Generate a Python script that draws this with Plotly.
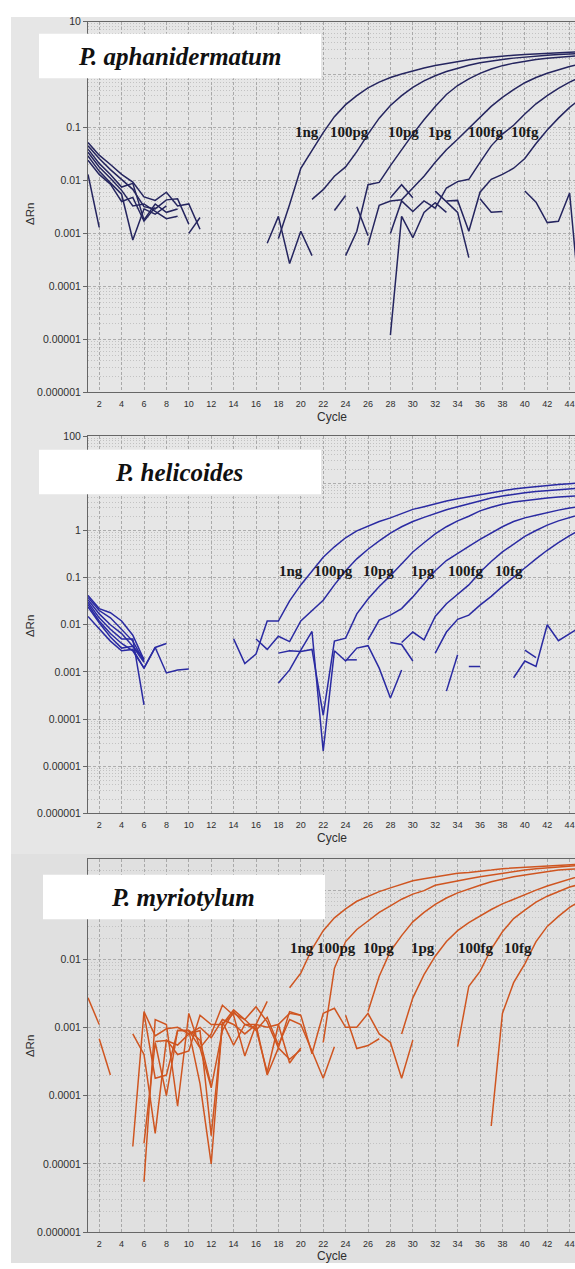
import math
import numpy as np
import plotly.graph_objects as go

N = None
cycles = list(range(1, 46))
dilutions = ["1ng", "100pg", "10pg", "1pg", "100fg", "10fg", "NTC", "NTC 2"]

# ---- P. aphanidermatum : delta Rn per cycle (None = not plotted on log scale)
aph_1ng = [0.052, 0.03, 0.02, 0.013, 0.0093, 0.0049, 0.0042, 0.006, 0.0033, 0.0036, 0.0012, *[N] * 6,
           0.0008, 0.0035, 0.017, 0.037, 0.08, 0.16, 0.27, 0.4, 0.56, 0.72, 0.88, 1.02, 1.18, 1.33,
           1.48, 1.62, 1.76, 1.9, 2.02, 2.13, 2.23, 2.32, 2.4, 2.47, 2.53, 2.58, 2.63, 2.67]
aph_100pg = [0.045, 0.026, 0.016, 0.0105, 0.0068, 0.0032, 0.0029, 0.0043, 0.0045, 0.0015, *[N] * 10,
             0.0044, 0.0067, 0.012, 0.018, 0.035, 0.075, 0.15, 0.26, 0.4, 0.57, 0.76, 0.95, 1.14, 1.32,
             1.5, 1.66, 1.8, 1.93, 2.04, 2.14, 2.23, 2.31, 2.38, 2.44, 2.49]
aph_10pg = [0.039, 0.021, 0.013, 0.0075, 0.0088, 0.0018, 0.0036, 0.0025, 0.0029, *[N] * 14,
            0.00038, 0.0011, 0.0083, 0.0092, 0.019, 0.038, 0.075, 0.14, 0.25, 0.42, 0.62, 0.83, 1.05,
            1.27, 1.47, 1.64, 1.79, 1.92, 2.03, 2.12, 2.2, 2.27]
aph_1pg = [0.034, 0.018, 0.011, 0.0065, 0.0033, 0.0036, 0.0026, 0.0019, 0.0021, *[N] * 13,
           0.0027, 0.0052, N, 0.0006, 0.0034, 0.0041, 0.0043, 0.0072, 0.012, 0.022, 0.038, 0.06,
           0.098, 0.16, 0.25, 0.37, 0.52, 0.7, 0.88, 1.06, 1.24, 1.42, 1.58]
aph_100fg = [0.029, 0.015, 0.009, 0.0055, 0.00075, 0.0029, 0.0023, 0.0033, *[N] * 16,
             0.0032, 0.0009, N, 0.001, 0.0041, 0.0026, 0.0041, 0.003, 0.0072, 0.0095, 0.0105, 0.022,
             0.045, 0.075, 0.11, 0.18, 0.28, 0.4, 0.55, 0.72, 0.9]
aph_10fg = [0.024, 0.013, 0.0085, 0.004, 0.0048, 0.0017, 0.0031, *[N] * 9,
            0.00065, 0.0021, 0.00027, 0.0011, 0.00038, *[N] * 6, 0.0047, 0.0083, 0.0047, N, N,
            0.0041, 0.0042, 0.0011, 0.006, 0.0105, 0.013, 0.017, 0.026, 0.05, 0.09, 0.15, 0.24, 0.35]
aph_ntc = [0.013, 0.0013, *[N] * 7, 0.001, 0.002, *[N] * 16,
           0.000012, 0.0021, 0.00083, 0.0025, 0.0038, 0.0025, N, N, 0.0045, 0.0025, 0.0026, N,
           0.0063, 0.0039, 0.0016, 0.0017, 0.0058, 0.00003]
aph_ntc2 = [*[N] * 31, 0.0063, 0.004, 0.0025, 0.00035, *[N] * 10]

# ---- P. helicoides
hel_1ng = [0.042, 0.022, 0.018, 0.012, 0.006, 0.0018, *[N] * 7,
           0.005, 0.0015, 0.0024, 0.012, 0.012, 0.032, 0.07, 0.14, 0.27, 0.45, 0.7, 0.98, 1.25, 1.55,
           1.85, 2.3, 2.8, 3.2, 3.7, 4.2, 4.7, 5.2, 5.7, 6.4, 7.0, 7.6, 8.1, 8.6, 9.0, 9.4, 9.8, 10.2]
hel_100pg = [0.038, 0.02, 0.014, 0.008, 0.0045, 0.0017, *[N] * 9,
             0.005, 0.003, 0.0057, 0.0044, 0.012, 0.02, 0.033, 0.07, 0.14, 0.25, 0.4, 0.6, 0.88, 1.2,
             1.55, 1.9, 2.3, 2.75, 3.2, 3.7, 4.3, 4.9, 5.4, 5.9, 6.3, 6.7, 7.0, 7.3, 7.6, 7.9]
hel_10pg = [0.034, 0.017, 0.01, 0.0065, 0.0035, 0.0019, *[N] * 11,
            0.0025, 0.0028, 0.0027, 0.003, 0.00012, 0.0045, 0.0052, 0.017, 0.035, 0.065, 0.11, 0.2,
            0.35, 0.55, 0.85, 1.2, 1.6, 2.0, 2.6, 3.1, 3.6, 4.0, 4.3, 4.6, 4.9, 5.1, 5.3, 5.5]
hel_1pg = [0.03, 0.014, 0.008, 0.005, 0.005, 0.0002, *[N] * 19,
           0.0048, 0.0125, 0.016, 0.022, 0.039, 0.074, 0.14, 0.23, 0.33, 0.46, 0.65, 0.9, 1.2, 1.55,
           1.85, 2.1, 2.4, 2.7, 3.0, 3.25]
hel_100fg = [0.027, 0.012, 0.0065, 0.004, 0.0028, 0.0012, 0.0033, 0.00095, 0.0011, 0.00115, *[N] * 18,
             0.0042, 0.007, 0.0048, 0.015, 0.028, 0.045, 0.07, 0.13, 0.22, 0.35, 0.52, 0.75, 1.0, 1.3,
             1.6, 1.9, 2.2]
hel_10fg = [0.024, 0.011, 0.0055, 0.0032, 0.0035, 0.0016, *[N] * 11,
            0.00058, 0.0011, 0.0029, 0.0072, 0.000021, 0.0028, 0.0017, 0.0032, 0.0036, 0.0012, 0.00028,
            0.0011, N, N, 0.0025, 0.007, 0.013, 0.016, 0.026, 0.04, 0.065, 0.1, 0.16, 0.25, 0.38, 0.55,
            0.78, 1.05]
hel_ntc = [0.015, 0.008, 0.0045, 0.0028, 0.003, 0.0012, 0.0033, 0.004, *[N] * 15,
           0.0018, 0.0018, N, N, 0.0042, 0.0038, 0.0017, N, N, 0.00039, 0.0023, *[N] * 4,
           0.00075, 0.0017, 0.0013, 0.01, 0.0046, 0.0065, 0.009]
hel_ntc2 = [*[N] * 34, 0.0013, 0.0013, N, N, N, 0.0029, 0.002, N, N, N, N]

# ---- P. myriotylum
myr_1ng = [0.0027, 0.0011, N, N, 0.000018, 0.0017, 0.00075, 0.00095, 0.001, 0.0008, 0.001, 0.0007,
           0.0013, 0.0011, 0.0008, 0.0011, 0.0024, N, 0.0038, 0.0062, 0.014, 0.026, 0.04, 0.054, 0.07,
           0.083, 0.097, 0.11, 0.125, 0.14, 0.15, 0.16, 0.17, 0.18, 0.185, 0.19, 0.2, 0.21, 0.215,
           0.22, 0.225, 0.23, 0.235, 0.24, 0.245]
myr_100pg = [N, 0.00068, 0.0002, N, 0.0008, 0.0004, 0.000028, 0.00066, 0.0004, 0.00045, 0.0015, 0.0011,
             0.0011, 0.0018, 0.0013, 0.002, 0.0012, 0.0005, 0.0017, 0.0015, N, 0.0006, 0.0073, 0.018,
             0.027, 0.036, 0.048, 0.06, 0.075, 0.089, 0.1, 0.12, 0.13, 0.14, 0.15, 0.16, 0.17, 0.18,
             0.19, 0.2, 0.21, 0.215, 0.22, 0.23, 0.235]
myr_10pg = [*[N] * 5, 0.0000055, 0.0013, 0.0011, 0.00007, 0.0016, 0.0005, 0.0008, 0.0021, 0.0015,
            0.00038, 0.0011, 0.0002, 0.0005, 0.00034, 0.00047, *[N] * 5,
            0.0017, 0.0056, 0.013, 0.022, 0.035, 0.048, 0.063, 0.078, 0.093, 0.107, 0.12, 0.135, 0.148,
            0.16, 0.17, 0.18, 0.19, 0.2, 0.205, 0.21]
myr_1pg = [*[N] * 5, 0.00002, 0.0006, 0.0001, 0.0009, 0.0009, 0.00015, 0.00001, 0.0012, 0.00055,
           0.0011, 0.0011, 0.001, 0.0011, 0.0003, 0.0005, N, N, N, 0.0015, 0.00049, 0.00054, 0.00068, N,
           0.0008, 0.0027, 0.0059, 0.011, 0.018, 0.026, 0.034, 0.043, 0.053, 0.064, 0.075, 0.088,
           0.102, 0.117, 0.132, 0.15, 0.165]
myr_100fg = [*[N] * 5, 0.0016, 0.00018, 0.0002, 0.0009, 0.0009, 0.0005, 0.00013, 0.0009, 0.0017, 0.0011,
             0.00095, 0.00022, 0.0011, 0.0016, 0.0015, 0.00041, 0.0016, 0.0019, 0.001, 0.001, 0.0016,
             0.0008, 0.0006, 0.00018, 0.00065, N, N, N, 0.00052, 0.004, 0.0066, 0.014, 0.025, 0.039,
             0.052, 0.068, 0.083, 0.098, 0.113, 0.125]
myr_10fg = [*[N] * 6, 0.00062, 0.00064, 0.00055, 0.0008, 0.0009, 0.000026, 0.0011, 0.0016, 0.0013,
            0.0009, 0.0014, 0.00055, 0.0013, 0.0011, 0.00045, 0.00018, 0.00052, *[N] * 13,
            0.000036, 0.0016, 0.0045, 0.0085, 0.018, 0.03, 0.042, 0.057, 0.072]
myr_ntc = [*[N] * 9, 0.0009, 0.00065, 0.00014, *[N] * 33]

W, H = 575, 1269


def px(x):
    return x / W


def py(y):
    return 1 - y / H


panels = [
    dict(title="P. aphanidermatum", color="#25255f",
         series=[aph_1ng, aph_100pg, aph_10pg, aph_1pg, aph_100fg, aph_10fg, aph_ntc, aph_ntc2],
         top=15.7, bottom=390, ymax=1.0,
         box=(39, 28, 321, 73), title_xy=(179, 51),
         labels_y=127, labels_x=[307, 349, 403, 439.5, 485.5, 525],
         cycle_y=415, drn_y=210),
    dict(title="P. helicoides", color="#2a2aa2",
         series=[hel_1ng, hel_100pg, hel_10pg, hel_1pg, hel_100fg, hel_10fg, hel_ntc, hel_ntc2],
         top=434.3, bottom=815, ymax=2.0,
         box=(39, 448, 321, 493), title_xy=(179, 471),
         labels_y=570, labels_x=[291, 333, 378.5, 423, 465.5, 508.5],
         cycle_y=840, drn_y=626),
    dict(title="P. myriotylum", color="#cf5520",
         series=[myr_1ng, myr_100pg, myr_10pg, myr_1pg, myr_100fg, myr_10fg, myr_ntc],
         top=860.7, bottom=1238, ymax=-0.53,
         box=(43, 877, 325, 922), title_xy=(183, 900),
         labels_y=951, labels_x=[301.5, 336, 378, 422.5, 475.5, 518],
         cycle_y=1262, drn_y=1050),
]

fig = go.Figure()
shapes = [
    dict(type="rect", xref="paper", yref="paper", x0=px(11), x1=1, y0=py(856), y1=py(11),
         fillcolor="#e6e6e6", line=dict(width=0), layer="below"),
    dict(type="rect", xref="paper", yref="paper", x0=px(11), x1=1, y0=0, y1=py(856),
         fillcolor="#e0e0e0", line=dict(width=0), layer="below"),
]
annotations = []
axis_font = dict(family="Liberation Sans, Arial, sans-serif", size=10.5, color="#2e2e2e")
label_names = dilutions[:6]

for i, p in enumerate(panels, start=1):
    xa = "x" if i == 1 else f"x{i}"
    ya = "y" if i == 1 else f"y{i}"
    for name, vals in zip(dilutions, p["series"]):
        assert len(vals) == len(cycles)
        fig.add_trace(go.Scatter(x=cycles, y=vals, mode="lines", name=name, xaxis=xa, yaxis=ya,
                                 line=dict(color=p["color"], width=1.5), showlegend=False,
                                 connectgaps=False, hoverinfo="x+y+name"))

    ymax = p["ymax"]
    major = [10.0 ** e for e in range(-6, math.floor(ymax) + 1)]
    minor = [k * 10.0 ** e for e in range(-6, math.ceil(ymax) + 1) for k in range(2, 10)
             if math.log10(k * 10.0 ** e) < ymax]
    dom_y = [py(p["bottom"]), py(p["top"])]

    fig.update_layout(**{
        ("xaxis" if i == 1 else f"xaxis{i}"): dict(
            domain=[px(88), 1], range=[1, 44.48], anchor=ya,
            tickvals=list(range(2, 45, 2)), tickfont=dict(axis_font, size=9),
            ticks="", ticklabelstandoff=3,
            showline=True, linecolor="#666666", linewidth=1, mirror=True,
            showgrid=True, gridcolor="#a9a9a9", griddash="3px,2px", gridwidth=1,
            zeroline=False, fixedrange=True),
        ("yaxis" if i == 1 else f"yaxis{i}"): dict(
            domain=dom_y, type="log", range=[-6, ymax], anchor=xa,
            tickvals=major,
            ticktext=[np.format_float_positional(v, trim="-") for v in major],
            tickfont=axis_font, ticks="outside", ticklen=4, tickcolor="#666666",
            showline=True, linecolor="#666666", linewidth=1,
            showgrid=True, gridcolor="#adadad", griddash="3px,2px", gridwidth=1,
            minor=dict(tickvals=minor, showgrid=True, gridcolor="#c2c2c2",
                       griddash="1px,2px", ticks=""),
            zeroline=False, fixedrange=True),
    })

    x0, y0, x1, y1 = p["box"]
    shapes.append(dict(type="rect", xref="paper", yref="paper", x0=px(x0), x1=px(x1),
                       y0=py(y1), y1=py(y0), fillcolor="white", line=dict(width=0),
                       layer="above"))
    annotations.append(dict(xref="paper", yref="paper", x=px(p["title_xy"][0]),
                            y=py(p["title_xy"][1]), text=f"<b><i>{p['title']}</i></b>",
                            showarrow=False, xanchor="center", yanchor="middle",
                            font=dict(family="Liberation Serif, Times New Roman, serif",
                                      size=25, color="#111111")))
    for lx, lab in zip(p["labels_x"], label_names):
        annotations.append(dict(xref="paper", yref="paper", x=px(lx), y=py(p["labels_y"]),
                                text=f"<b>{lab}</b>", showarrow=False,
                                xanchor="center", yanchor="middle",
                                font=dict(family="Liberation Serif, Times New Roman, serif",
                                          size=15, color="#1a1a1a")))
    annotations.append(dict(xref="paper", yref="paper", x=px(332), y=py(p["cycle_y"]),
                            text="Cycle", showarrow=False, xanchor="center", yanchor="middle",
                            font=dict(axis_font, size=12)))
    annotations.append(dict(xref="paper", yref="paper", x=px(30), y=py(p["drn_y"]),
                            text="ΔRn", showarrow=False, textangle=-90,
                            xanchor="center", yanchor="middle",
                            font=dict(axis_font, size=11.5)))

fig.update_layout(width=W, height=H, margin=dict(l=0, r=0, t=0, b=0),
                  paper_bgcolor="white", plot_bgcolor="rgba(0,0,0,0)",
                  shapes=shapes, annotations=annotations, showlegend=False)

fig.write_html("out.html")
